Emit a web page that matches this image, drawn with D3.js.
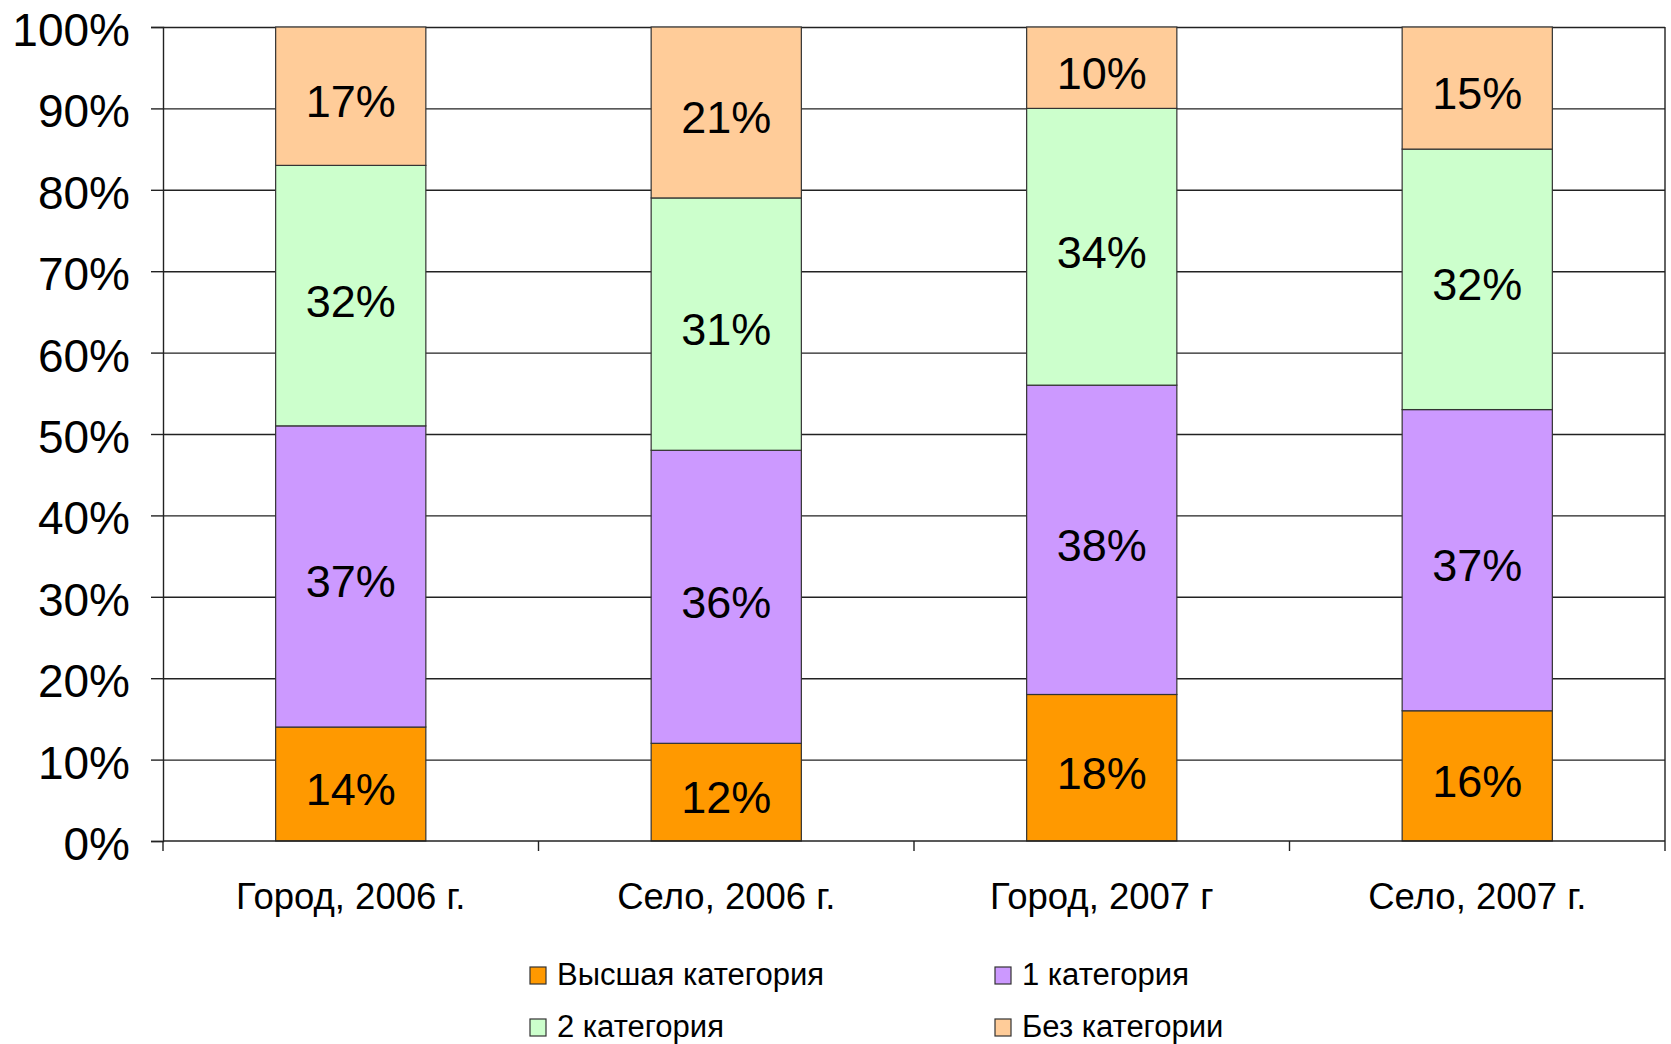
<!DOCTYPE html>
<html>
<head>
<meta charset="utf-8">
<script src="https://cdn.jsdelivr.net/npm/d3@7"></script>
<style>
  body { margin: 0; background: #fff; }
  svg { display: block; font-family: "Liberation Sans", Arial, sans-serif; }
  .grid line { stroke: #222; stroke-width: 1.4; }
  .grid path { display: none; }
  .axis path, .axis line { stroke: #222; stroke-width: 1.4; }
  .axis text { fill: #000; font-size: 46px; }
  .seg { stroke: #333; stroke-width: 1.2; }
  .lbl { font-size: 45px; fill: #000; text-anchor: middle; }
  .cat { font-size: 36.5px; fill: #000; text-anchor: middle; }
  .leg { font-size: 31px; fill: #000; }
</style>
</head>
<body>
<div class="chart"></div>
<script>
const categories = ['Город, 2006 г.', 'Село, 2006 г.', 'Город, 2007 г', 'Село, 2007 г.']
const seriesNames = ['Высшая категория', '1 категория', '2 категория', 'Без категории']
const seriesColors = ['#ff9900', '#cc99ff', '#ccffcc', '#ffcc99']
// percent of each category, bottom to top
const highest = [14, 12, 18, 16]
const first = [37, 36, 38, 37]
const second = [32, 31, 34, 32]
const none = [17, 21, 10, 15]
const yTicks = [0, 10, 20, 30, 40, 50, 60, 70, 80, 90, 100]

const width = 1671
const height = 1044
const margin = {top: 27, right: 6, bottom: 203, left: 163}

let svg = d3.select('.chart').append('svg')
  .attr('width', width)
  .attr('height', height)

let x = d3.scaleBand()
  .domain(categories)
  .range([margin.left, width - margin.right])
  .paddingInner(0.6)
  .paddingOuter(0.3)

let y = d3.scaleLinear()
  .domain([0, 100])
  .range([height - margin.bottom, margin.top])

let rows = categories.map((c, i) => ({
  cat: c,
  'Высшая категория': highest[i],
  '1 категория': first[i],
  '2 категория': second[i],
  'Без категории': none[i]
}))

let stacked = d3.stack().keys(seriesNames)(rows)

// gridlines
svg.append('g')
  .attr('class', 'grid')
  .attr('transform', `translate(${margin.left},0)`)
  .call(d3.axisLeft(y).tickValues(yTicks.slice(1)).tickSize(-(width - margin.left - margin.right)).tickFormat(''))

// plot right border
svg.append('line')
  .attr('x1', width - margin.right).attr('x2', width - margin.right)
  .attr('y1', y(100)).attr('y2', y(0))
  .attr('stroke', '#222').attr('stroke-width', 1.4)

// bars
let groups = svg.append('g').selectAll('g')
  .data(stacked)
  .enter()
  .append('g')
  .attr('fill', (d, i) => seriesColors[i])

groups.selectAll('rect')
  .data(d => d)
  .enter()
  .append('rect')
  .attr('class', 'seg')
  .attr('x', d => x(d.data.cat))
  .attr('width', x.bandwidth())
  .attr('y', d => y(d[1]))
  .attr('height', d => y(d[0]) - y(d[1]))

groups.selectAll('text')
  .data(d => d)
  .enter()
  .append('text')
  .attr('class', 'lbl')
  .attr('x', d => x(d.data.cat) + x.bandwidth() / 2)
  .attr('y', d => y((d[0] + d[1]) / 2) + 21)
  .text(d => (d[1] - d[0]) + '%')

// y axis
let yAxis = svg.append('g')
  .attr('class', 'axis')
  .attr('transform', `translate(${margin.left},0)`)
  .call(d3.axisLeft(y).tickValues(yTicks).tickSize(12).tickPadding(21).tickFormat(d => d + '%'))
yAxis.selectAll('text').attr('dy', '0.40em')

// x axis
let xAxis = svg.append('g').attr('class', 'axis')
xAxis.append('line')
  .attr('x1', margin.left).attr('x2', width - margin.right)
  .attr('y1', y(0)).attr('y2', y(0))
xAxis.selectAll('.xt')
  .data(d3.range(categories.length + 1))
  .enter()
  .append('line')
  .attr('class', 'xt')
  .attr('x1', i => margin.left + i * x.step())
  .attr('x2', i => margin.left + i * x.step())
  .attr('y1', y(0)).attr('y2', y(0) + 10)

svg.append('g').selectAll('text')
  .data(categories)
  .enter()
  .append('text')
  .attr('class', 'cat')
  .attr('x', d => x(d) + x.bandwidth() / 2)
  .attr('y', 909)
  .text(d => d)

// legend 2x2
let legendPos = [[530, 967], [995, 967], [530, 1019], [995, 1019]]
let legend = svg.append('g').selectAll('g')
  .data(seriesNames)
  .enter()
  .append('g')
  .attr('transform', (d, i) => `translate(${legendPos[i][0]},${legendPos[i][1]})`)

legend.append('rect')
  .attr('width', 16).attr('height', 17)
  .attr('fill', (d, i) => seriesColors[i])
  .attr('stroke', '#333').attr('stroke-width', 1.2)

legend.append('text')
  .attr('class', 'leg')
  .attr('x', 27)
  .attr('y', 18)
  .text(d => d)
</script>
</body>
</html>
